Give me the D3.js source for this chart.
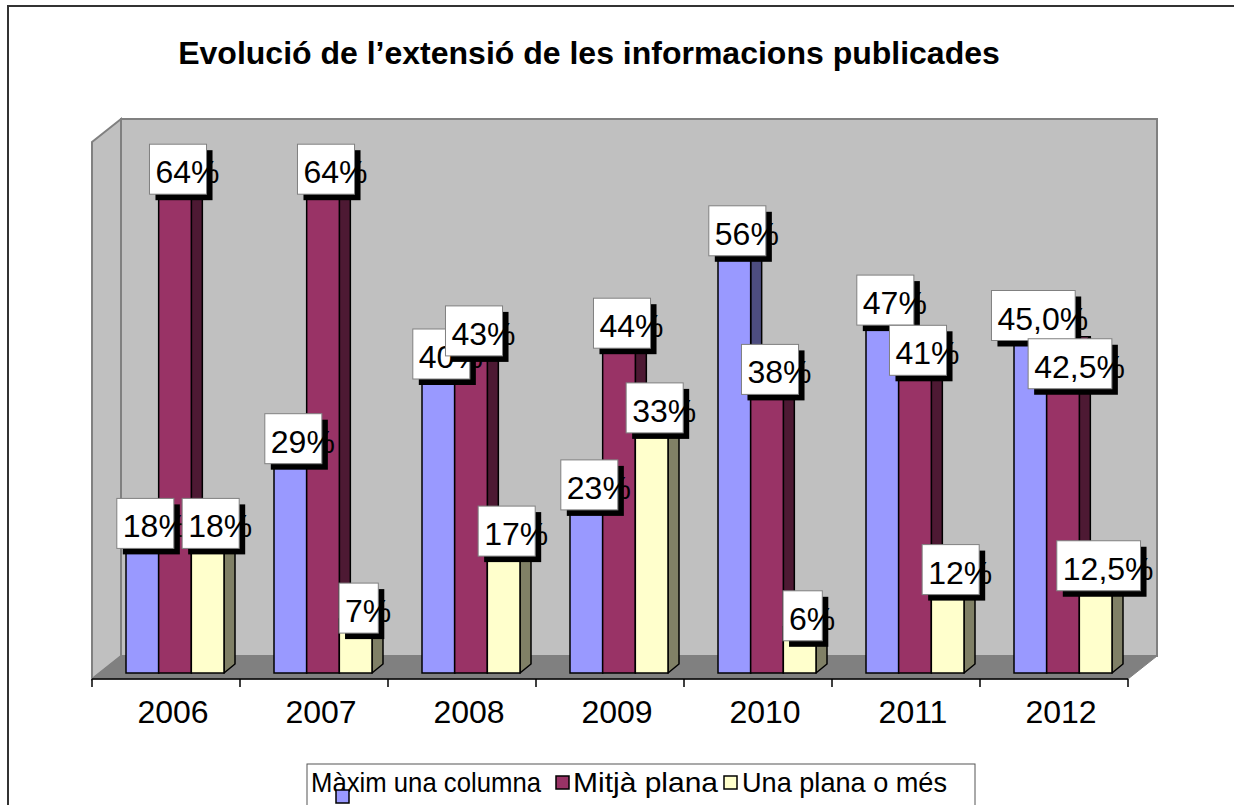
<!DOCTYPE html>
<html>
<head>
<meta charset="utf-8">
<script src="https://cdn.jsdelivr.net/npm/d3@7"></script>
<style>
  body { margin: 0; background: #fff; }
  text { font-family: "Liberation Sans", Arial, sans-serif; }
</style>
</head>
<body>
<svg id="chart"></svg>
<script>
(function() {

  // data
  const years = ['2006', '2007', '2008', '2009', '2010', '2011', '2012'];
  const seriesNames = ['Màxim una columna', 'Mitjà plana', 'Una plana o més'];
  const maximUnaColumna = [18, 29, 40, 23, 56, 47, 45.0];
  const mitjaPlana = [64, 64, 43, 44, 38, 41, 42.5];
  const unaPlanaOMes = [18, 7, 17, 33, 6, 12, 12.5];
  const maximLabels = ['18%', '29%', '40%', '23%', '56%', '47%', '45,0%'];
  const mitjaLabels = ['64%', '64%', '43%', '44%', '38%', '41%', '42,5%'];
  const unaLabels = ['18%', '7%', '17%', '33%', '6%', '12%', '12,5%'];

  const title = 'Evolució de l\u2019extensió de les informacions publicades';

  const seriesValues = [maximUnaColumna, mitjaPlana, unaPlanaOMes];
  const seriesLabels = [maximLabels, mitjaLabels, unaLabels];

  const frontColors = ['#9999FF', '#993366', '#FFFFCC'];
  const sideColors = ['#4D4D80', '#4D1933', '#808066'];
  const topColors = ['#B8B8FF', '#AD4D7D', '#FFFFE0'];

  const width = 1234;
  const height = 805;

  // 3d box of the plot
  const frontLeft = 92, frontRight = 1128, floorFront = 679;
  const depthX = 29, depthY = -23;
  const baseY = 673;
  const barDX = 11, barDY = -9;

  const svg = d3.select('#chart')
    .attr('width', width)
    .attr('height', height);

  // outer frame
  svg.append('rect')
    .attr('x', 8).attr('y', 6)
    .attr('width', 1240).attr('height', 820)
    .attr('fill', '#fff')
    .attr('stroke', '#333')
    .attr('stroke-width', 2);

  svg.append('text')
    .attr('x', 589)
    .attr('y', 64)
    .attr('text-anchor', 'middle')
    .style('font-size', '32px')
    .style('font-weight', 'bold')
    .text(title);

  const x = d3.scaleBand().domain(years).range([frontLeft, frontRight]).padding(0);
  const xs = d3.scaleBand().domain(seriesNames).range([34, 132]).padding(0);
  const y = d3.scaleLinear().domain([0, 70]).range([baseY, 134]);

  // walls and floor
  const walls = svg.append('g').attr('class', 'walls');
  const floorBack = floorFront + depthY;
  const wallTop = 119;

  walls.append('polygon')
    .attr('points', [[frontLeft, wallTop - depthY], [frontLeft + depthX, wallTop],
      [frontLeft + depthX, floorBack], [frontLeft, floorFront]].join(' '))
    .attr('fill', '#C0C0C0')
    .attr('stroke', '#808080')
    .attr('stroke-width', 2);

  walls.append('rect')
    .attr('x', frontLeft + depthX)
    .attr('y', wallTop)
    .attr('width', frontRight - frontLeft)
    .attr('height', floorBack - wallTop)
    .attr('fill', '#C0C0C0')
    .attr('stroke', '#808080')
    .attr('stroke-width', 2);

  walls.append('polygon')
    .attr('points', [[frontLeft, floorFront], [frontLeft + depthX, floorBack],
      [frontRight + depthX, floorBack], [frontRight, floorFront]].join(' '))
    .attr('fill', '#808080')
    .attr('stroke', '#808080')
    .attr('stroke-width', 1);

  // category axis
  const axisG = svg.append('g')
    .attr('transform', 'translate(0,' + floorFront + ')');

  axisG.append('line')
    .attr('x1', frontLeft).attr('x2', frontRight)
    .attr('y1', 0).attr('y2', 0)
    .attr('stroke', '#000')
    .attr('stroke-width', 1.5);

  axisG.selectAll('line.tick')
    .data(years.concat(['end']))
    .enter()
    .append('line')
    .attr('class', 'tick')
    .attr('x1', function(d) { return d === 'end' ? frontRight : x(d); })
    .attr('x2', function(d) { return d === 'end' ? frontRight : x(d); })
    .attr('y1', 0).attr('y2', 8)
    .attr('stroke', '#000')
    .attr('stroke-width', 1.5);

  const labelAxis = svg.append('g')
    .attr('transform', 'translate(7,' + floorFront + ')')
    .call(d3.axisBottom(x).tickSize(0).tickPadding(0));
  labelAxis.select('.domain').remove();
  labelAxis.selectAll('text')
    .attr('y', 44)
    .attr('dy', 0)
    .style('font-size', '32px')
    .style('font-family', '"Liberation Sans", Arial, sans-serif')
    .attr('fill', '#000');

  // bars
  const rows = years.map(function(yr, j) {
    return seriesNames.map(function(s, i) {
      return { year: yr, series: s, i: i, value: seriesValues[i][j], label: seriesLabels[i][j] };
    });
  });

  const groups = svg.append('g').attr('class', 'bars')
    .selectAll('g.cat')
    .data(rows)
    .enter()
    .append('g')
    .attr('class', 'cat');

  const bar = groups.selectAll('g.bar')
    .data(function(d) { return d; })
    .enter()
    .append('g')
    .attr('class', 'bar');

  const bx = function(d) { return x(d.year) + xs(d.series); };
  const bw = xs.bandwidth();

  bar.append('polygon')
    .attr('points', function(d) {
      const x0 = bx(d) + bw, yt = y(d.value);
      return [[x0, yt], [x0 + barDX, yt + barDY], [x0 + barDX, baseY + barDY], [x0, baseY]].join(' ');
    })
    .attr('fill', function(d) { return sideColors[d.i]; })
    .attr('stroke', '#000')
    .attr('stroke-width', 1.5)
    .attr('stroke-linejoin', 'round');

  bar.append('polygon')
    .attr('points', function(d) {
      const x0 = bx(d), yt = y(d.value);
      return [[x0, yt], [x0 + barDX, yt + barDY], [x0 + bw + barDX, yt + barDY], [x0 + bw, yt]].join(' ');
    })
    .attr('fill', function(d) { return topColors[d.i]; })
    .attr('stroke', '#000')
    .attr('stroke-width', 1.5)
    .attr('stroke-linejoin', 'round');

  bar.append('rect')
    .attr('x', bx)
    .attr('y', function(d) { return y(d.value); })
    .attr('width', bw)
    .attr('height', function(d) { return baseY - y(d.value); })
    .attr('fill', function(d) { return frontColors[d.i]; })
    .attr('stroke', '#000')
    .attr('stroke-width', 1.5);

  // data labels (the 2012 middle label was moved down in the original)
  const labelNudge = { '2012|Mitjà plana': [4, 29], '2011|Mitjà plana': [0, 4] };

  const flat = [];
  seriesNames.forEach(function(s, i) {
    rows.forEach(function(r) { flat.push(r[i]); });
  });

  const lab = svg.append('g').attr('class', 'labels')
    .selectAll('g')
    .data(flat)
    .enter()
    .append('g')
    .attr('transform', function(d) {
      const n = labelNudge[d.year + '|' + d.series] || [0, 0];
      return 'translate(' + (bx(d) + bw / 2 + 3 + n[0]) + ',' + (y(d.value) + n[1]) + ')';
    });

  const shadow = lab.append('rect').attr('fill', '#000');
  const box = lab.append('rect')
    .attr('fill', '#fff')
    .attr('stroke', '#808080')
    .attr('stroke-width', 1);
  const txt = lab.append('text')
    .style('font-size', '32px')
    .attr('fill', '#000')
    .text(function(d) { return d.label; });

  txt.each(function(d) {
    const tw = this.getComputedTextLength();
    d.boxW = tw - 7;
  });

  box.attr('x', function(d) { return -d.boxW / 2; })
    .attr('y', -36)
    .attr('width', function(d) { return d.boxW; })
    .attr('height', 50);
  shadow.attr('x', function(d) { return -d.boxW / 2 + 6; })
    .attr('y', -30)
    .attr('width', function(d) { return d.boxW; })
    .attr('height', 50);
  txt.attr('x', function(d) { return -d.boxW / 2 + 6; })
    .attr('y', 3);

  // legend
  const legend = svg.append('g').attr('class', 'legend');
  legend.append('rect')
    .attr('x', 307).attr('y', 764)
    .attr('width', 668).attr('height', 60)
    .attr('fill', '#fff')
    .attr('stroke', '#555')
    .attr('stroke-width', 1);

  const legendX = [311, 573, 742];
  const legendW = [230, 145, 205];
  const markerX = [336, 556, 724];
  const markerY = [790, 776, 776];

  legend.selectAll('text.item')
    .data(seriesNames)
    .enter()
    .append('text')
    .attr('class', 'item')
    .attr('x', function(d, i) { return legendX[i]; })
    .attr('y', 792)
    .attr('textLength', function(d, i) { return legendW[i]; })
    .attr('lengthAdjust', 'spacingAndGlyphs')
    .style('font-size', '28px')
    .text(function(d) { return d; });

  legend.selectAll('rect.marker')
    .data(seriesNames)
    .enter()
    .append('rect')
    .attr('class', 'marker')
    .attr('x', function(d, i) { return markerX[i]; })
    .attr('y', function(d, i) { return markerY[i]; })
    .attr('width', 13)
    .attr('height', 13)
    .attr('fill', function(d, i) { return frontColors[i]; })
    .attr('stroke', '#000')
    .attr('stroke-width', 1.5);

})();
</script>
</body>
</html>
